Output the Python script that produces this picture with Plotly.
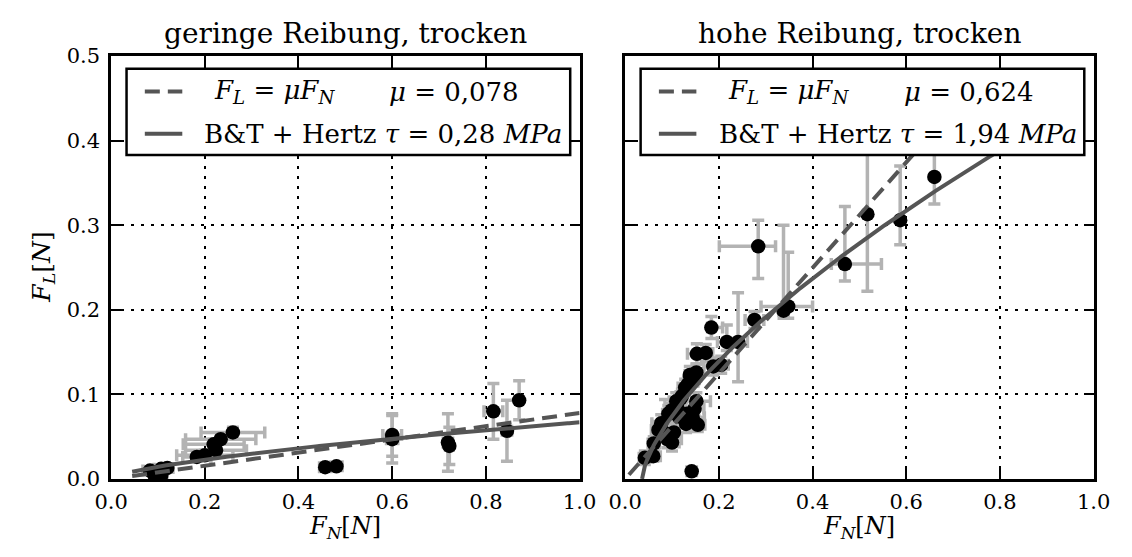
import plotly.graph_objects as go
import numpy as np

# ---- measured data: low friction, dry ----
fn_low = [0.083, 0.093, 0.107, 0.107, 0.120, 0.183, 0.200, 0.219, 0.224, 0.234, 0.260,
          0.457, 0.481, 0.600, 0.600, 0.719, 0.722, 0.816, 0.845, 0.871]
fl_low = [0.010, 0.004, 0.004, 0.012, 0.013, 0.026, 0.028, 0.041, 0.034, 0.047, 0.055,
          0.014, 0.015, 0.052, 0.047, 0.043, 0.039, 0.080, 0.057, 0.093]
fn_low_err = [0.015, 0.010, 0.012, 0.015, 0.012, 0.030, 0.060, 0.065, 0.065, 0.075, 0.068,
              0.012, 0.012, 0.020, 0.012, 0.010, 0.008, 0.020, 0.010, 0.006]
fl_low_err = [0.004, 0.003, 0.003, 0.004, 0.004, 0.005, 0.006, 0.006, 0.006, 0.006, 0.006,
              0.004, 0.004, 0.025, 0.028, 0.034, 0.022, 0.033, 0.036, 0.023]

# ---- measured data: high friction, dry ----
fn_high = [0.142, 0.042, 0.060, 0.061, 0.077, 0.090, 0.100, 0.104, 0.085, 0.071,
           0.092, 0.099, 0.109, 0.111, 0.114, 0.118, 0.121, 0.128, 0.134, 0.138,
           0.146, 0.152, 0.130, 0.132, 0.144, 0.148, 0.152, 0.155, 0.153, 0.172,
           0.184, 0.188, 0.205, 0.217, 0.241, 0.276, 0.284, 0.338, 0.348, 0.469,
           0.517, 0.587, 0.660]
fl_high = [0.009, 0.025, 0.027, 0.042, 0.066, 0.047, 0.043, 0.055, 0.054, 0.058,
           0.077, 0.081, 0.092, 0.085, 0.074, 0.095, 0.098, 0.108, 0.112, 0.123,
           0.118, 0.126, 0.065, 0.077, 0.073, 0.083, 0.092, 0.064, 0.148, 0.149,
           0.179, 0.133, 0.135, 0.162, 0.162, 0.188, 0.275, 0.199, 0.204, 0.254,
           0.313, 0.306, 0.357]
fn_high_err_p = [0.010, 0.012, 0.015, 0.012, 0.020, 0.030, 0.015, 0.012, 0.020, 0.015,
                 0.012, 0.010, 0.015, 0.012, 0.010, 0.012, 0.010, 0.015, 0.012, 0.010,
                 0.012, 0.015, 0.020, 0.015, 0.025, 0.020, 0.030, 0.015, 0.020, 0.015,
                 0.024, 0.020, 0.015, 0.020, 0.020, 0.020, 0.037, 0.010, 0.052, 0.078,
                 0.000, 0.000, 0.000]
fn_high_err_m = [0.010, 0.012, 0.015, 0.012, 0.020, 0.030, 0.015, 0.012, 0.020, 0.015,
                 0.012, 0.010, 0.015, 0.012, 0.010, 0.012, 0.010, 0.015, 0.012, 0.010,
                 0.012, 0.015, 0.020, 0.015, 0.025, 0.020, 0.030, 0.015, 0.020, 0.015,
                 0.008, 0.020, 0.015, 0.020, 0.020, 0.020, 0.083, 0.010, 0.058, 0.029,
                 0.000, 0.000, 0.000]
fl_high_err_p = [0.000, 0.008, 0.006, 0.008, 0.010, 0.010, 0.026, 0.008, 0.040, 0.010,
                 0.010, 0.008, 0.010, 0.008, 0.010, 0.008, 0.008, 0.010, 0.008, 0.010,
                 0.008, 0.010, 0.010, 0.008, 0.010, 0.008, 0.010, 0.008, 0.012, 0.010,
                 0.013, 0.010, 0.010, 0.020, 0.058, 0.010, 0.031, 0.101, 0.064, 0.068,
                 0.084, 0.064, 0.040]
fl_high_err_m = [0.000, 0.008, 0.006, 0.008, 0.010, 0.010, 0.010, 0.008, 0.010, 0.010,
                 0.010, 0.008, 0.010, 0.008, 0.010, 0.008, 0.008, 0.010, 0.008, 0.010,
                 0.008, 0.010, 0.010, 0.008, 0.010, 0.008, 0.010, 0.008, 0.012, 0.010,
                 0.013, 0.010, 0.010, 0.010, 0.047, 0.010, 0.038, 0.009, 0.014, 0.020,
                 0.091, 0.029, 0.032]

# ---- model parameters ----
mu_low, mu_high = 0.078, 0.624
k_low, k_high = 0.067, 0.465          # B&T + Hertz prefactor (tau * contact constant)
fn0_low, fn0_high = 0.0, 0.036        # load offset of the contact model
range_low = (0.045, 1.0)
range_high_lin = (0.008, 0.70)
range_high_bt = (0.036, 0.95)

titles = ["geringe Reibung, trocken", "hohe Reibung, trocken"]
mu_labels = ["0,078", "0,624"]
tau_labels = ["0,28", "1,94"]
x_ticks = [0.0, 0.2, 0.4, 0.6, 0.8, 1.0]
y_ticks = [0.0, 0.1, 0.2, 0.3, 0.4, 0.5]

W, H = 1132, 557
FONT = "DejaVu Serif"
LINE_C = "#555555"
ERR_C = "#b3b3b3"
DASH = "15px,8px"

panels_px = [(97, 580), (627, 1110)]
top_px, bot_px = 46, 488

fig = go.Figure()


def scatter_set(fn, fl, exp, exm, eyp, eym, xa, ya):
    fig.add_trace(go.Scatter(
        x=fn, y=fl, mode="markers", xaxis=xa, yaxis=ya, showlegend=False,
        marker=dict(color="black", size=14.5, line=dict(width=0)),
        error_x=dict(type="data", symmetric=False, array=exp, arrayminus=exm,
                     color=ERR_C, thickness=3.5, width=6),
        error_y=dict(type="data", symmetric=False, array=eyp, arrayminus=eym,
                     color=ERR_C, thickness=3.5, width=6),
    ))


def model_lines(mu, k, fn0, rlin, rbt, xa, ya):
    xl = np.linspace(rlin[0], rlin[1], 50)
    fig.add_trace(go.Scatter(x=xl, y=mu * xl, mode="lines", xaxis=xa, yaxis=ya,
                             showlegend=False,
                             line=dict(color=LINE_C, width=4, dash=DASH)))
    xb = np.linspace(rbt[0], rbt[1], 300)
    fig.add_trace(go.Scatter(x=xb, y=k * np.clip(xb - fn0, 0, None) ** (2 / 3),
                             mode="lines", xaxis=xa, yaxis=ya, showlegend=False,
                             line=dict(color=LINE_C, width=4)))


scatter_set(fn_low, fl_low, fn_low_err, fn_low_err, fl_low_err, fl_low_err, "x", "y")
model_lines(mu_low, k_low, fn0_low, range_low, range_low, "x", "y")
scatter_set(fn_high, fl_high, fn_high_err_p, fn_high_err_m, fl_high_err_p, fl_high_err_m, "x2", "y2")
model_lines(mu_high, k_high, fn0_high, range_high_lin, range_high_bt, "x2", "y2")

ydom = [(H - bot_px) / H, (H - top_px) / H]
frame = dict(
    showline=True, linecolor="black", linewidth=2.5, mirror="ticks",
    ticks="inside", ticklen=10, tickwidth=1.5, tickcolor="black",
    showgrid=True, gridcolor="black", gridwidth=1.5, griddash="3px,7px",
    zeroline=False, tickfont=dict(family=FONT, size=21, color="black"),
)

fig.update_layout(
    width=W, height=H, margin=dict(l=0, r=0, t=0, b=0),
    paper_bgcolor="white", plot_bgcolor="white",
    xaxis=dict(domain=[panels_px[0][0] / W, panels_px[0][1] / W], anchor="y",
               range=[0, 1], tickvals=x_ticks, ticktext=[f"{v:.1f}" for v in x_ticks],
               ticklabelstandoff=2, **frame),
    yaxis=dict(domain=ydom, anchor="x", range=[0, 0.5], tickvals=y_ticks,
               ticktext=[f"{v:.1f}" for v in y_ticks], ticklabelstandoff=4, **frame),
    xaxis2=dict(domain=[panels_px[1][0] / W, panels_px[1][1] / W], anchor="y2",
                range=[0, 1], tickvals=x_ticks, ticktext=[f"{v:.1f}" for v in x_ticks],
                ticklabelstandoff=2, **frame),
    yaxis2=dict(domain=ydom, anchor="x2", range=[0, 0.5], tickvals=y_ticks,
                showticklabels=False, **frame),
)

# legend boxes, drawn in data coordinates of each panel
leg_font = dict(family=FONT, size=26, color="black")
for i, (xr, yr) in enumerate([("x", "y"), ("x2", "y2")]):
    fig.add_shape(type="rect", xref=xr, yref=yr, x0=0.033, x1=0.98, y0=0.383, y1=0.485,
                  fillcolor="white", line=dict(color="black", width=2.5), layer="above")
    fig.add_shape(type="line", xref=xr, yref=yr, x0=0.072, x1=0.152, y0=0.458, y1=0.458,
                  line=dict(color=LINE_C, width=4, dash=DASH), layer="above")
    fig.add_shape(type="line", xref=xr, yref=yr, x0=0.072, x1=0.152, y0=0.408, y1=0.408,
                  line=dict(color=LINE_C, width=4), layer="above")
    fig.add_annotation(xref=xr, yref=yr, x=0.215, y=0.458, xanchor="left", yanchor="middle",
                       showarrow=False, font=leg_font,
                       text="<i>F</i><sub><i>L</i></sub> = <i>μF</i><sub><i>N</i></sub>")
    fig.add_annotation(xref=xr, yref=yr, x=0.59, y=0.458, xanchor="left", yanchor="middle",
                       showarrow=False, font=leg_font,
                       text=f"<i>μ</i> = {mu_labels[i]}")
    fig.add_annotation(xref=xr, yref=yr, x=0.195, y=0.408, xanchor="left", yanchor="middle",
                       showarrow=False, font=leg_font,
                       text=f"B&amp;T + Hertz <i>τ</i> = {tau_labels[i]} <i>MPa</i>")
    # panel title
    cx = (panels_px[i][0] + panels_px[i][1]) / 2 / W
    fig.add_annotation(xref="paper", yref="paper", x=cx, y=(H - 22) / H,
                       xanchor="center", yanchor="middle", showarrow=False,
                       font=dict(family=FONT, size=28, color="black"), text=titles[i])
    # x axis label
    fig.add_annotation(xref="paper", yref="paper", x=cx, y=0.0,
                       xanchor="center", yanchor="bottom", showarrow=False,
                       font=dict(family=FONT, size=24, color="black"),
                       text="<i>F</i><sub><i>N</i></sub>[<i>N</i>]")

fig.add_annotation(xref="paper", yref="paper", x=27 / W, y=(H - 267) / H,
                   xanchor="center", yanchor="middle", showarrow=False, textangle=-90,
                   font=dict(family=FONT, size=25, color="black"),
                   text="<i>F</i><sub><i>L</i></sub>[<i>N</i>]")

fig.write_html("out.html")
